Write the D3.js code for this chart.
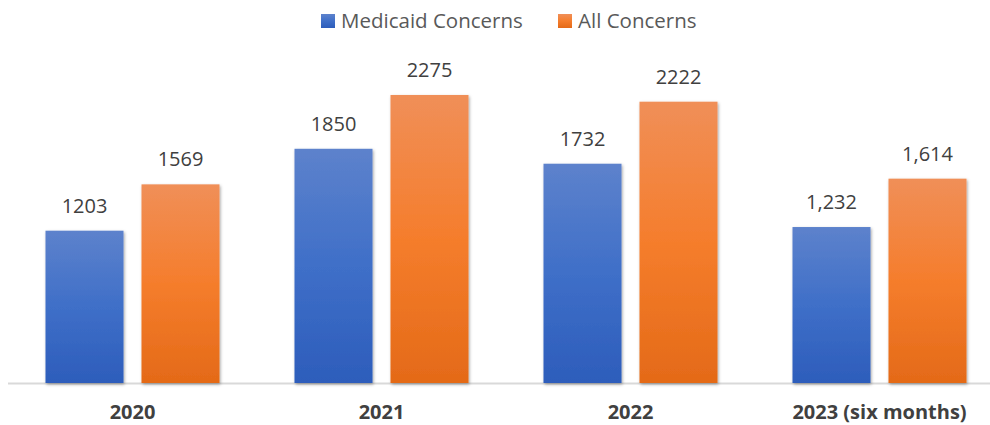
<!DOCTYPE html>
<html>
<head>
<meta charset="utf-8">
<script src="https://cdn.jsdelivr.net/npm/d3@7"></script>
<style>
  body { margin: 0; background: #fff; }
  text { font-family: "Open Sans", "Noto Sans", sans-serif; }
</style>
</head>
<body>
<div id="chart"></div>
<script>
// data
var years = ["2020", "2021", "2022", "2023 (six months)"];
var seriesNames = ["Medicaid Concerns", "All Concerns"];
var medicaid = [1203, 1850, 1732, 1232];
var allConcerns = [1569, 2275, 2222, 1614];
var medicaidLabels = ["1203", "1850", "1732", "1,232"];
var allLabels = ["1569", "2275", "2222", "1,614"];

var screen = {width: 990, height: 425};
var baseY = 383;

var svg = d3.select("#chart").append("svg")
    .attr("width", screen.width)
    .attr("height", screen.height);

var defs = svg.append("defs");
var grads = [
  {id: "gBlue", stops: ["#5d82cc", "#3f6fc8", "#2d5dbb"]},
  {id: "gOrange", stops: ["#f08f58", "#f57d2c", "#e46a18"]}
];
grads.forEach(function(g){
  var lg = defs.append("linearGradient").attr("id", g.id)
      .attr("x1", 0).attr("y1", 0).attr("x2", 0).attr("y2", 1);
  lg.append("stop").attr("offset", "0%").attr("stop-color", g.stops[0]);
  lg.append("stop").attr("offset", "50%").attr("stop-color", g.stops[1]);
  lg.append("stop").attr("offset", "100%").attr("stop-color", g.stops[2]);
});
defs.append("filter").attr("id", "shadow")
    .attr("x", "-10%").attr("y", "-10%").attr("width", "130%").attr("height", "130%")
  .append("feDropShadow")
    .attr("dx", 1).attr("dy", 1.5).attr("stdDeviation", 1.5)
    .attr("flood-color", "#000").attr("flood-opacity", 0.35);

var x0 = d3.scaleBand().domain(years).range([8, 1004]);
var x1 = d3.scaleBand().domain(seriesNames).range([0, 174]).paddingInner(0.1875);
var offset = (x0.bandwidth() - 174) / 2;
var y = d3.scaleLinear().domain([0, 3000]).range([baseY, baseY - 0.1266 * 3000]);

// axis line
svg.append("line")
    .attr("x1", 8).attr("x2", screen.width)
    .attr("y1", baseY + 0.5).attr("y2", baseY + 0.5)
    .style("stroke", "#d9d9d9").attr("stroke-width", 2);

var rows = years.map(function(yr, i){
  return [
    {year: yr, s: seriesNames[0], v: medicaid[i], label: medicaidLabels[i], fill: "url(#gBlue)"},
    {year: yr, s: seriesNames[1], v: allConcerns[i], label: allLabels[i], fill: "url(#gOrange)"}
  ];
});
var flat = [].concat.apply([], rows);

svg.append("g").selectAll("rect")
    .data(flat)
    .enter().append("rect")
    .attr("x", function(d){ return x0(d.year) + offset + x1(d.s); })
    .attr("y", function(d){ return y(d.v); })
    .attr("width", x1.bandwidth())
    .attr("height", function(d){ return baseY - y(d.v); })
    .style("fill", function(d){ return d.fill; })
    .attr("filter", "url(#shadow)");

svg.append("g").selectAll("text")
    .data(flat)
    .enter().append("text")
    .attr("x", function(d){ return x0(d.year) + offset + x1(d.s) + x1.bandwidth() / 2; })
    .attr("y", function(d){ return y(d.v) - 18; })
    .attr("text-anchor", "middle")
    .style("font-size", "20px")
    .style("fill", "#404040")
    .text(function(d){ return d.label; });

// category labels
svg.append("g").selectAll("text")
    .data(years)
    .enter().append("text")
    .attr("x", function(d){ return x0(d) + x0.bandwidth() / 2; })
    .attr("y", 419)
    .attr("text-anchor", "middle")
    .style("font-size", "20px")
    .style("font-weight", "bold")
    .style("fill", "#404040")
    .text(function(d){ return d; });

// legend
var legendItems = [
  {name: seriesNames[0], fill: "url(#gBlue)", x: 321},
  {name: seriesNames[1], fill: "url(#gOrange)", x: 558}
];
var legend = svg.append("g").selectAll("g")
    .data(legendItems)
    .enter().append("g")
    .attr("transform", function(d){ return "translate(" + d.x + ",14)"; });
legend.append("rect")
    .attr("width", 14).attr("height", 14)
    .style("fill", function(d){ return d.fill; });
legend.append("text")
    .attr("x", 20).attr("y", 14)
    .style("font-size", "20.5px")
    .style("fill", "#595959")
    .text(function(d){ return d.name; });
</script>
</body>
</html>
